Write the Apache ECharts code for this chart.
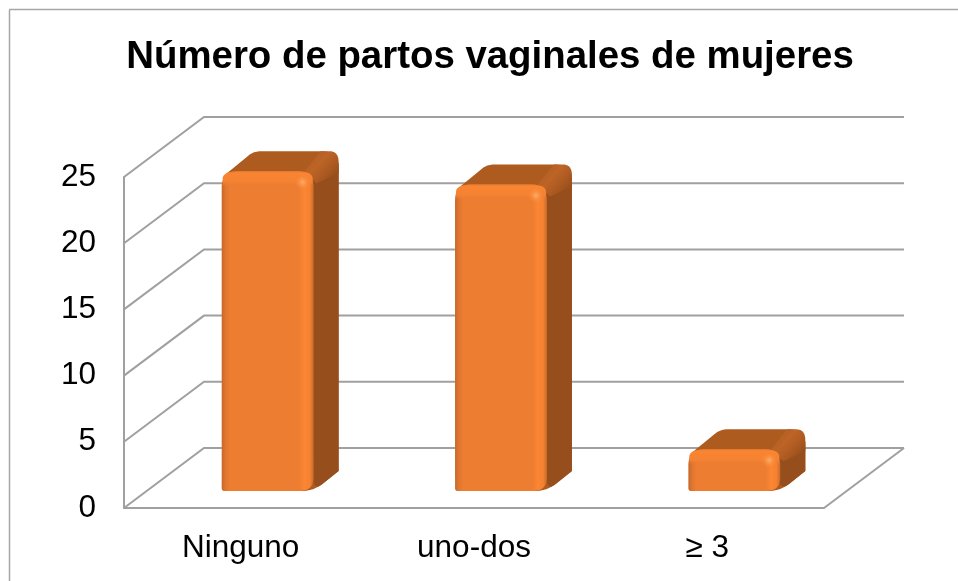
<!DOCTYPE html>
<html>
<head>
<meta charset="utf-8">
<style>html,body{margin:0;padding:0;background:#fff}#c{width:958px;height:581px}</style>
<script src="https://cdn.jsdelivr.net/npm/echarts@6/dist/echarts.min.js"></script>
</head>
<body>
<div id="c"></div>
<script>
const titleText = 'Número de partos vaginales de mujeres';
const categories = ['Ninguno', 'uno-dos', '≥ 3'];
const values = [24, 23, 3];
const gridTicks = [0, 5, 10, 15, 20, 25];

const FONT = '"Liberation Sans", Arial, sans-serif';
const GRAY = '#a0a0a0';
const DEPTH_X = 80, DEPTH_Y = 60;

function rounded(pts, radii) {
  const out = [], n = pts.length;
  for (let i = 0; i < n; i++) {
    const p = pts[i], a = pts[(i + n - 1) % n], b = pts[(i + 1) % n], r = radii[i];
    if (!r) { out.push(p); continue; }
    const la = Math.hypot(a[0] - p[0], a[1] - p[1]), lb = Math.hypot(b[0] - p[0], b[1] - p[1]);
    const s = [p[0] + (a[0] - p[0]) * Math.min(r / la, .5), p[1] + (a[1] - p[1]) * Math.min(r / la, .5)];
    const e = [p[0] + (b[0] - p[0]) * Math.min(r / lb, .5), p[1] + (b[1] - p[1]) * Math.min(r / lb, .5)];
    for (let k = 0; k <= 10; k++) {
      const t = k / 10, u = 1 - t;
      out.push([u * u * s[0] + 2 * u * t * p[0] + t * t * e[0], u * u * s[1] + 2 * u * t * p[1] + t * t * e[1]]);
    }
  }
  return out;
}
function poly(points, fill) {
  return { type: 'polygon', shape: { points }, style: { fill }, silent: true };
}
function grad(x2, y2, stops) {
  return { type: 'linear', x: 0, y: 0, x2, y2,
    colorStops: stops.map(s => ({ offset: s[0], color: s[1] })) };
}

function renderWall(params, api) {
  const t = api.value(1), p = api.coord([0, t]);
  const cs = params.coordSys, xL = cs.x, xR = cs.x + cs.width, y = p[1];
  const kids = [{
    type: 'polyline',
    shape: { points: [[xL, y], [xL + DEPTH_X, y - DEPTH_Y], [xR + DEPTH_X, y - DEPTH_Y]] },
    style: { stroke: GRAY, lineWidth: 2, fill: null }, silent: true
  }];
  if (t === 0) kids.push({
    type: 'line',
    shape: { x1: xR, y1: y, x2: xR + DEPTH_X, y2: y - DEPTH_Y },
    style: { stroke: GRAY, lineWidth: 2 }, silent: true
  });
  return { type: 'group', children: kids };
}

function renderBar(params, api) {
  const top = api.coord([api.value(0), api.value(1)]);
  const base = api.coord([api.value(0), 0]);
  const w = api.size([1, 0])[0] * 0.394;
  const cx = top[0] + 27;
  const L = cx - w / 2, R = cx + w / 2;
  const B = base[1] - 17, T = top[1] - 19;
  const dx = 25, dy = 20, r = 16;
  const kids = [];
  // top + side silhouette
  kids.push(poly(rounded([[L + 4, T + 3], [L + dx + 7, T - dy], [R + dx, T - dy], [R + dx, B - dy], [R, B], [L + 6, B]], [0, 7, r, 0, 12, 0]), '#ae5b20'));
  // side face
  kids.push(poly(rounded([[R - 4, T + 8], [R + dx, T - dy + 12], [R + dx, B - dy], [R, B]], [0, 0, 0, 12]), '#964f1c'));
  // soft edge between top and side
  kids.push(poly(rounded([[R - 10, T + 1], [R + dx - 18, T - dy], [R + dx, T - dy], [R + dx, T - dy + 22], [R + 3, T + 12]], [0, 0, r, 0, 0]),
    grad(1, 1, [[0, '#ae5b20'], [0.42, '#bd6427'], [0.66, '#ab5920'], [0.85, '#964f1c'], [1, '#964f1c']])));
  // front face
  kids.push(poly(rounded([[L, B], [R, B], [R, T], [L, T]], [3, 14, r, r]),
    grad(1, 0, [[0, '#c4682b'], [0.04, '#e0762f'], [0.09, '#ed7d31'], [0.84, '#ed7d31'], [0.9, '#fb8633'], [0.96, '#f58131'], [1, '#c56a2b']])));
  // top bevel
  kids.push(poly(rounded([[L + 1, T + 15], [R - 1, T + 15], [R - 1, T], [L + 1, T]], [0, 0, r, r]),
    grad(0, 1, [[0, '#e67a2f'], [0.12, '#f98532'], [0.7, '#f58232'], [1, 'rgba(237,125,49,0)']])));
  // corner glint
  kids.push({ type: 'circle', shape: { cx: R - 11, cy: T + 11, r: 8 }, silent: true,
    style: { fill: { type: 'radial', x: .5, y: .5, r: .5, colorStops: [{ offset: 0, color: 'rgba(255,178,110,0.9)' }, { offset: 1, color: 'rgba(251,134,51,0)' }] } } });
  return { type: 'group', children: kids };
}

const chart = echarts.init(document.getElementById('c'), null, { renderer: 'canvas', width: 958, height: 581 });
chart.setOption({
  animation: false,
  backgroundColor: '#fff',
  title: {
    text: titleText, left: 485, top: 33, textAlign: 'center',
    textStyle: { fontFamily: FONT, fontSize: 38.4, fontWeight: 'bold', color: '#000' }
  },
  graphic: [
    { type: 'line', shape: { x1: 9.5, y1: 10, x2: 9.5, y2: 581 }, style: { stroke: '#a6a6a6', lineWidth: 1.5 }, silent: true },
    { type: 'line', shape: { x1: 9, y1: 9.5, x2: 958, y2: 9.5 }, style: { stroke: '#a6a6a6', lineWidth: 1.5 }, silent: true }
  ],
  grid: { left: 124, right: 134, top: 177, bottom: 73, containLabel: false },
  xAxis: {
    type: 'category', data: categories,
    axisTick: { show: false },
    axisLine: { show: true, lineStyle: { color: GRAY, width: 2 } },
    axisLabel: { color: '#000', fontFamily: FONT, fontSize: 31.5, margin: 24 },
    splitLine: { show: false }
  },
  yAxis: {
    type: 'value', min: 0, max: 25, interval: 5,
    axisTick: { show: false },
    axisLine: { show: true, lineStyle: { color: GRAY, width: 2 } },
    axisLabel: { color: '#000', fontFamily: FONT, fontSize: 31.5, margin: 28, padding: [10, 0, 0, 0] },
    splitLine: { show: false }
  },
  series: [
    { type: 'custom', name: 'walls', renderItem: renderWall, clip: false, silent: true, z: 1,
      data: gridTicks.map(t => [0, t]), encode: { x: 0, y: 1 } },
    { type: 'custom', name: 'Número de partos', renderItem: renderBar, clip: false, silent: true, z: 3,
      data: values.map((v, i) => [i, v]), encode: { x: 0, y: 1 } }
  ]
});
</script>
</body>
</html>
